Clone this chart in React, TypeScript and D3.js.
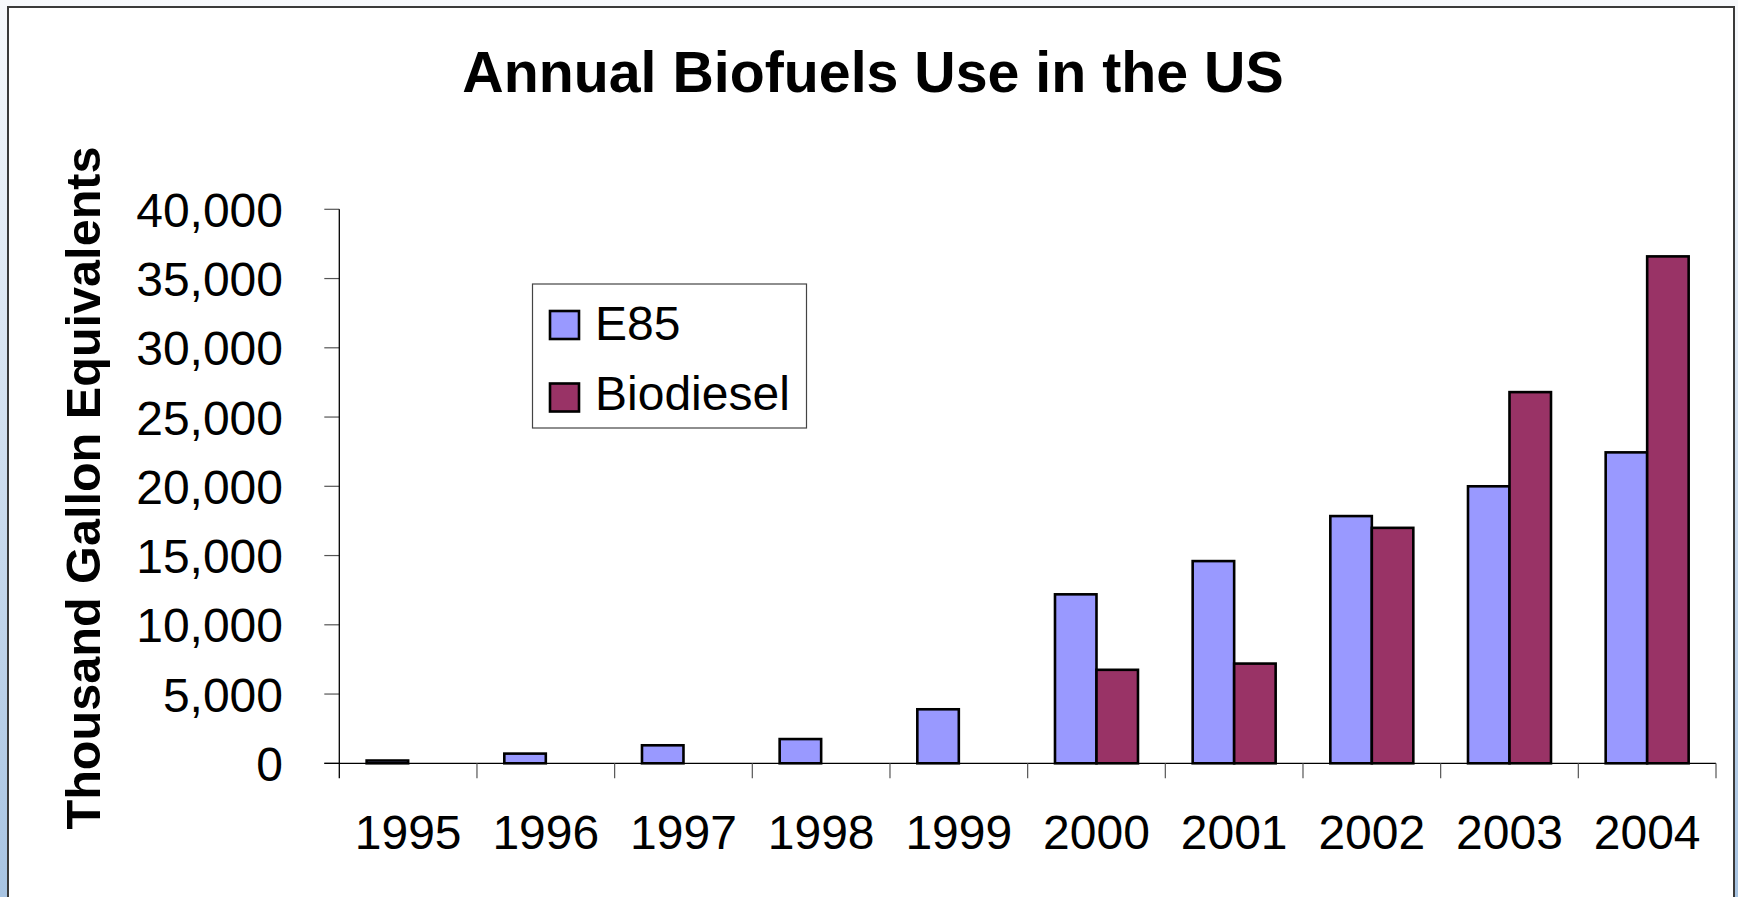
import React, { useEffect, useRef } from 'react';
import * as d3 from 'd3';

const years = ['1995', '1996', '1997', '1998', '1999', '2000', '2001', '2002', '2003', '2004'];
const seriesNames = ['E85', 'Biodiesel'];
const e85 = [200, 700, 1300, 1750, 3900, 12200, 14600, 17850, 20000, 22450];
const biodiesel = [0, 0, 0, 0, 0, 6750, 7200, 17000, 26800, 36600];
const yTicks = [0, 5000, 10000, 15000, 20000, 25000, 30000, 35000, 40000];
const colors = ['#9999FF', '#993366'];

const W = 1738;
const H = 897;
const FONT = '"Liberation Sans", Arial, sans-serif';

const App = () => {
  const svgRef = useRef<SVGSVGElement | null>(null);

  useEffect(() => {
    const svg = d3.select(svgRef.current);
    svg.selectAll('*').remove();

    const x0 = 339.3, x1 = 1716, yBase = 763.3, yTop = 209.3;

    // page background gradient + white chart box
    const defs = svg.append('defs');
    const grad = defs.append('linearGradient').attr('id', 'bg').attr('x1', 0).attr('y1', 0).attr('x2', 0).attr('y2', 1);
    grad.append('stop').attr('offset', '0%').attr('stop-color', '#f7f9fc');
    grad.append('stop').attr('offset', '100%').attr('stop-color', '#a8c4e2');
    svg.append('rect').attr('width', W).attr('height', H).attr('fill', 'url(#bg)');
    svg.append('rect')
      .attr('x', 8).attr('y', 7).attr('width', 1726).attr('height', H + 20)
      .attr('fill', '#fff').attr('stroke', '#3a3a3a').attr('stroke-width', 2);

    const x = d3.scaleBand().domain(years).range([x0, x1]).paddingInner(0).paddingOuter(0);
    const xs = d3.scaleBand().domain(seriesNames).range([0, x.bandwidth()]).paddingInner(0).paddingOuter(0.659);
    const y = d3.scaleLinear().domain([0, 40000]).range([yBase, yTop]);

    // title
    svg.append('text')
      .attr('x', 873).attr('y', 92)
      .attr('text-anchor', 'middle')
      .attr('font-family', FONT).attr('font-weight', 'bold').attr('font-size', 57.3)
      .text('Annual Biofuels Use in the US');

    // y axis title
    svg.append('text')
      .attr('transform', 'translate(100, 488) rotate(-90)')
      .attr('text-anchor', 'middle')
      .attr('font-family', FONT).attr('font-weight', 'bold').attr('font-size', 48.6)
      .text('Thousand Gallon Equivalents');

    // y ticks and labels
    const g = svg.append('g');
    g.selectAll('.ytick').data(yTicks).enter().append('line')
      .attr('x1', x0 - 15).attr('x2', x0)
      .attr('y1', d => y(d)).attr('y2', d => y(d))
      .attr('stroke', '#555').attr('stroke-width', 1.2);
    g.selectAll('.ylab').data(yTicks).enter().append('text')
      .attr('x', 283).attr('y', d => y(d) + 17.5)
      .attr('text-anchor', 'end')
      .attr('font-family', FONT).attr('font-size', 48)
      .text(d => d3.format(',')(d));

    // bars
    const data = years.map((yr, i) => ({ yr, values: [e85[i], biodiesel[i]] }));
    const groups = g.selectAll('.grp').data(data).enter().append('g')
      .attr('transform', d => `translate(${x(d.yr)},0)`);
    groups.selectAll('rect')
      .data(d => d.values.map((v, k) => ({ v, k })).filter(e => e.v > 0))
      .enter().append('rect')
      .attr('x', d => xs(seriesNames[d.k]) as number)
      .attr('width', xs.bandwidth())
      .attr('y', d => y(d.v))
      .attr('height', d => yBase - y(d.v))
      .attr('fill', d => colors[d.k])
      .attr('stroke', '#000').attr('stroke-width', 2.6)
      .attr('stroke-linejoin', 'miter');

    // axes lines
    g.append('line').attr('x1', x0).attr('x2', x0).attr('y1', yTop).attr('y2', yBase + 15)
      .attr('stroke', '#000').attr('stroke-width', 1.3);
    g.append('line').attr('x1', x0 - 15).attr('x2', x1).attr('y1', yBase).attr('y2', yBase)
      .attr('stroke', '#000').attr('stroke-width', 1.3);

    // x ticks at category boundaries
    const bounds = years.map(yr => x(yr) as number).concat([x1]);
    g.selectAll('.xtick').data(bounds.slice(1)).enter().append('line')
      .attr('x1', d => d).attr('x2', d => d)
      .attr('y1', yBase).attr('y2', yBase + 15)
      .attr('stroke', '#555').attr('stroke-width', 1.2);
    g.selectAll('.xlab').data(years).enter().append('text')
      .attr('x', d => (x(d) as number) + x.bandwidth() / 2)
      .attr('y', 849)
      .attr('text-anchor', 'middle')
      .attr('font-family', FONT).attr('font-size', 48)
      .text(d => d);

    // legend
    const lg = svg.append('g');
    lg.append('rect').attr('x', 532.5).attr('y', 284).attr('width', 274).attr('height', 144)
      .attr('fill', '#fff').attr('stroke', '#444').attr('stroke-width', 1.2);
    seriesNames.forEach((name, i) => {
      const top = i === 0 ? 311 : 383.5;
      lg.append('rect').attr('x', 550).attr('y', top).attr('width', 29).attr('height', 28)
        .attr('fill', colors[i]).attr('stroke', '#000').attr('stroke-width', 2.6);
      lg.append('text').attr('x', 595).attr('y', i === 0 ? 340 : 410)
        .attr('font-family', FONT).attr('font-size', 48)
        .text(name);
    });
  }, []);

  return (
    <svg
      ref={svgRef}
      width={W}
      height={H}
      style={{ position: 'absolute', left: 0, top: 0, display: 'block' }}
    />
  );
};

export default App;
